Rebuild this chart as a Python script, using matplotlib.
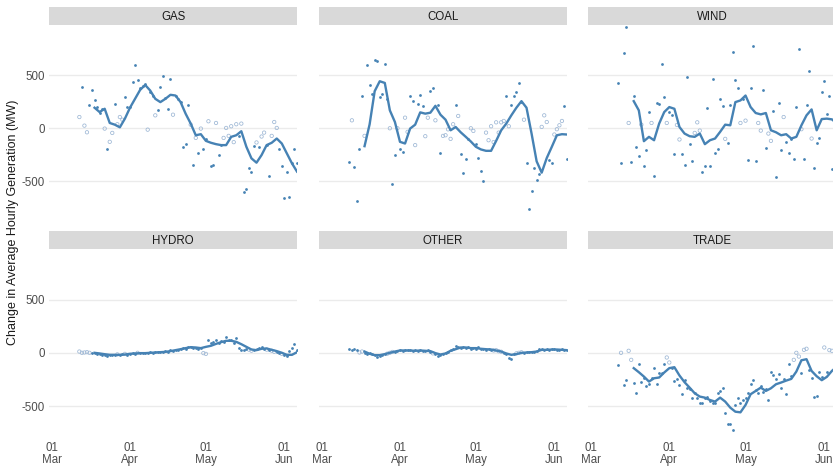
import matplotlib.pyplot as plt
import matplotlib.dates as mdates
import pandas as pd

plt.rcParams['font.family'] = ['Liberation Sans', 'DejaVu Sans']
plt.rcParams['axes.unicode_minus'] = False

BLUE = '#4682B4'
OPEN_EDGE = '#9DB7D5'
STRIP = '#D9D9D9'
GRID = '#EBEBEB'
TEXT = '#4D4D4D'

# Daily change in average hourly generation (MW), 12 Mar - 6 Jun
days = pd.date_range('2020-03-12', '2020-06-06', freq='D')
# 7-day trailing mean, sampled every second day from 18 Mar
trend_days = pd.date_range('2020-03-18', '2020-06-06', freq='2D')

gas_points = [
    106, 388, 25, -38, 222, 366, 263, 200, 140, 180,
    -3, -200, -128, -44, 231, 38, 106, 81, 294, 200,
    200, 441, 600, 456, 380, 400, 420, -13, 340, 300,
    122, 169, 388, 494, 290, 181, 463, 128, 300, 280,
    250, -181, -144, 216, 34, -347, -91, -234, -3, -194,
    -100, 66, -353, -350, 50, -250, -160, -91, 3, -72,
    19, -131, 38, -75, 44, -600, -572, -372, -416, -169,
    -134, -178, -78, -41, -160, -447, -72, 59, 3, -200,
    -356, -656, -413, -653, -330, -197, -325,
]
gas_trend = [
    194, 153, 184, 50, 34, 9, 91, 194, 278, 362,
    409, 356, 278, 247, 278, 316, 309, 247, 137, 44,
    -66, -56, -119, -137, -150, -159, -159, -81, -66, -28,
    -175, -284, -325, -253, -159, -137, -97, -144, -238, -331,
    -409,
]
gas_open = [0, 2, 3, 10, 12, 13, 15, 16, 17, 27, 30, 37, 44, 46, 48, 51,
            54, 57, 58, 59, 60, 61, 62, 64, 70, 72, 73, 76, 77, 78]

coal_points = [
    -316, 75, -363, -684, -200, 300, -72, 597, 413, 319,
    647, 638, 294, 319, 606, 272, 0, -528, -250, 0,
    -200, -225, 100, -34, 303, 253, -159, 231, 316, 206,
    -75, 100, 356, 378, 75, 222, -237, -72, -66, -10,
    -100, 38, 216, 116, -244, -425, -294, -100, 0, -25,
    -150, -281, -406, -494, -41, -113, 19, -131, 56, -41,
    56, 69, 306, 19, 216, 306, 344, 428, 250, 81,
    -331, -759, -591, -372, -491, -430, 13, 122, 59, -300,
    -331, -59, -9, 28, 69, 206, -291,
]
coal_trend = [
    -169, 37, 350, 444, 428, 169, 59, -128, -144, -3,
    34, 150, 138, 147, 212, 128, 81, -19, 12, -38,
    -81, -125, -175, -200, -213, -213, -119, -19, 44, 122,
    194, 256, 194, -50, -312, -419, -281, -175, -66, -56,
    -59,
]
coal_open = [1, 6, 16, 19, 22, 23, 26, 30, 31, 34, 37, 38, 39, 40, 41, 43,
             48, 49, 54, 55, 56, 57, 58, 59, 60, 61, 63, 69, 76, 77, 78,
             81, 82, 83, 84]

wind_points = [
    425, -331, 709, 960, 50, -322, 300, -175, -259, 34,
    -356, -203, 156, 50, -447, 238, 231, 603, 294, 50,
    150, 125, -241, 31, -106, -241, -344, 488, -144, -313,
    -44, 56, -22, -416, -353, 194, -353, 466, -231, -197,
    275, 209, -100, -138, 216, 722, 456, 381, 50, 280,
    72, -297, 381, 778, -313, 50, -22, 363, -184, -50,
    -119, 159, -456, 241, -203, 106, -128, -231, -97, -291,
    197, 747, -9, -288, 222, 538, -97, -378, -138, -94,
    344, 447, 131, 309, -384, -438, -150,
]
wind_trend = [
    256, 169, -122, -81, -113, 44, 153, 200, 184, 12,
    -50, -75, -81, -50, -150, -113, -97, -34, 34, 28,
    247, 263, 309, 200, 144, 131, 144, -19, -38, -66,
    -56, -97, -81, 28, 122, 178, -19, 87, 91, 84,
    44,
]
wind_open = [4, 9, 13, 19, 23, 24, 30, 31, 32, 42, 48, 50, 55, 56, 59, 60,
             65, 72, 76, 86]

hydro_points = [
    12, 0, 3, 6, 0, -3, -6, -12, -10, -16,
    -20, -28, -22, -18, -25, -15, -20, -14, -10, -18,
    -8, -4, -10, 0, -5, -2, 2, -4, 3, 0,
    6, 4, 10, 8, 14, 12, 22, 18, 30, 28,
    40, 45, 38, 50, 55, 48, 44, 40, 48, -3,
    -10, 122, 94, 100, 119, 90, 113, 105, 144, 120,
    122, 91, 138, 44, 28, 28, 40, 30, 20, 28,
    35, 45, 50, 38, 30, 25, 20, 10, 5, -5,
    -10, -25, -28, 19, 44, 81, 28,
]
hydro_trend = [
    0, -6, -13, -19, -19, -19, -16, -9, -6, -3,
    -3, 0, 3, 6, 9, 16, 25, 34, 44, 53,
    50, 44, 56, 66, 84, 100, 113, 113, 103, 81,
    56, 31, 25, 38, 41, 28, 16, 0, -19, -19,
    6,
]
hydro_open = [0, 1, 2, 3, 4, 15, 18, 23, 49, 50, 67, 68, 74, 76, 77, 80]

other_points = [
    38, 28, 35, 28, 3, 12, -3, -15, 0, -10,
    -20, -41, -28, -20, -15, -8, 0, 8, 12, 18,
    25, 20, 28, 22, 25, 18, 25, 20, 22, 15,
    18, 22, 12, -5, -15, -28, -22, -10, -5, 10,
    25, 35, 66, 59, 45, 55, 48, 52, 38, 45,
    40, 50, 35, 40, 30, 35, 28, 22, 25, 15,
    10, 0, -10, -44, -56, -10, -5, 0, 5, 0,
    3, 8, 5, 10, 15, 35, 38, 30, 35, 28,
    32, 38, 30, 28, 32, 25, 22,
]
other_trend = [
    12, -9, -22, -22, -12, 0, 12, 22, 22, 22,
    19, 22, 19, 16, -3, -16, -6, 19, 34, 50,
    50, 44, 44, 38, 34, 31, 22, 12, -6, -19,
    -12, 0, 3, 6, 12, 28, 28, 31, 31, 28,
    25,
]
other_open = [4, 5, 15, 16, 17, 33, 57, 58, 59, 60, 66, 67, 68]

trade_points = [
    -116, 0, -298, -257, 19, -66, -286, -380, -107, -270,
    -239, -308, -295, -232, -144, -292, -188, -188, -107, -44,
    -91, -138, -261, -248, -305, -383, -257, -327, -342, -427,
    -380, -427, -468, -474, -427, -411, -452, -474, -474, -374,
    -358, -333, -568, -669, -669, -725, -490, -421, -474, -443,
    -427, -374, -295, -257, -352, -380, -308, -364, -339, -440,
    -182, -207, -245, -195, -333, -245, -389, -107, -217, -66,
    0, -35, -192, 28, 38, -157, -239, -418, -408, -176,
    -223, 50, -176, 25, 19, -248, 38,
]
trade_trend = [
    -144, -182, -223, -270, -239, -232, -185, -144, -135, -213,
    -276, -327, -380, -411, -421, -443, -458, -421, -458, -515,
    -553, -559, -490, -389, -358, -327, -358, -333, -295, -279,
    -261, -245, -176, -70, -60, -170, -220, -257, -226, -170,
    -129,
]
trade_open = [1, 4, 5, 19, 20, 69, 70, 71, 73, 74, 81, 83, 84, 86]

panels = [
    ('GAS', gas_points, gas_trend, gas_open),
    ('COAL', coal_points, coal_trend, coal_open),
    ('WIND', wind_points, wind_trend, wind_open),
    ('HYDRO', hydro_points, hydro_trend, hydro_open),
    ('OTHER', other_points, other_trend, other_open),
    ('TRADE', trade_points, trade_trend, trade_open),
]

W, H = 833, 467
fig = plt.figure(figsize=(W / 100, H / 100), dpi=100)


def px_axes(x0, y0, x1, y1, **kw):
    # pixel box measured from the top-left corner
    return fig.add_axes([x0 / W, 1 - y1 / H, (x1 - x0) / W, (y1 - y0) / H], **kw)


col_x = [(49, 297), (319, 567), (588, 837)]
row_y = [((7, 25), (25, 213)), ((231, 249), (249, 438))]

for i, (name, pts, trend, open_idx) in enumerate(panels):
    r, c = divmod(i, 3)
    (sy0, sy1), (py0, py1) = row_y[r]
    x0, x1 = col_x[c]

    strip = px_axes(x0, sy0, x1, sy1)
    strip.set_facecolor(STRIP)
    strip.set_xticks([])
    strip.set_yticks([])
    for s in strip.spines.values():
        s.set_visible(False)
    strip.text(0.5, 0.47, name, ha='center', va='center', fontsize=8.3,
               color='#1A1A1A', transform=strip.transAxes)

    ax = px_axes(x0, py0, x1, py1)
    df = pd.DataFrame({'value': pts}, index=days)
    is_open = df.index.isin(df.index[open_idx])
    filled = df[~is_open]
    hollow = df[is_open]

    ax.scatter(hollow.index, hollow['value'], s=6, facecolors='none',
               edgecolors=OPEN_EDGE, linewidths=0.55, zorder=2)
    ax.scatter(filled.index, filled['value'], s=4, color=BLUE,
               linewidths=0, zorder=3)
    ax.plot(trend_days, trend, color=BLUE, linewidth=1.7, zorder=4)

    ax.set_xlim(pd.Timestamp('2020-02-29'), pd.Timestamp('2020-06-06'))
    ax.set_ylim(-800, 975)
    ax.set_yticks([-500, 0, 500])
    ax.set_xticks(pd.to_datetime(['2020-03-01', '2020-04-01', '2020-05-01', '2020-06-01']))
    ax.xaxis.set_major_formatter(mdates.DateFormatter('%d\n%b'))
    ax.grid(True, axis='y', color=GRID, linewidth=1.0, zorder=0)
    ax.set_axisbelow(True)
    for s in ax.spines.values():
        s.set_visible(False)
    ax.tick_params(length=0, labelsize=8.3, colors=TEXT, pad=3)
    if c != 0:
        ax.set_yticklabels([])
    if r == 0:
        ax.set_xticklabels([])
    for lbl in ax.get_xticklabels():
        lbl.set_linespacing(1.0)

fig.text(13 / W, 1 - 222 / H, 'Change in Average Hourly Generation (MW)',
         rotation=90, ha='center', va='center', fontsize=9, color='#1A1A1A')

fig.savefig('out.png', dpi=100)
